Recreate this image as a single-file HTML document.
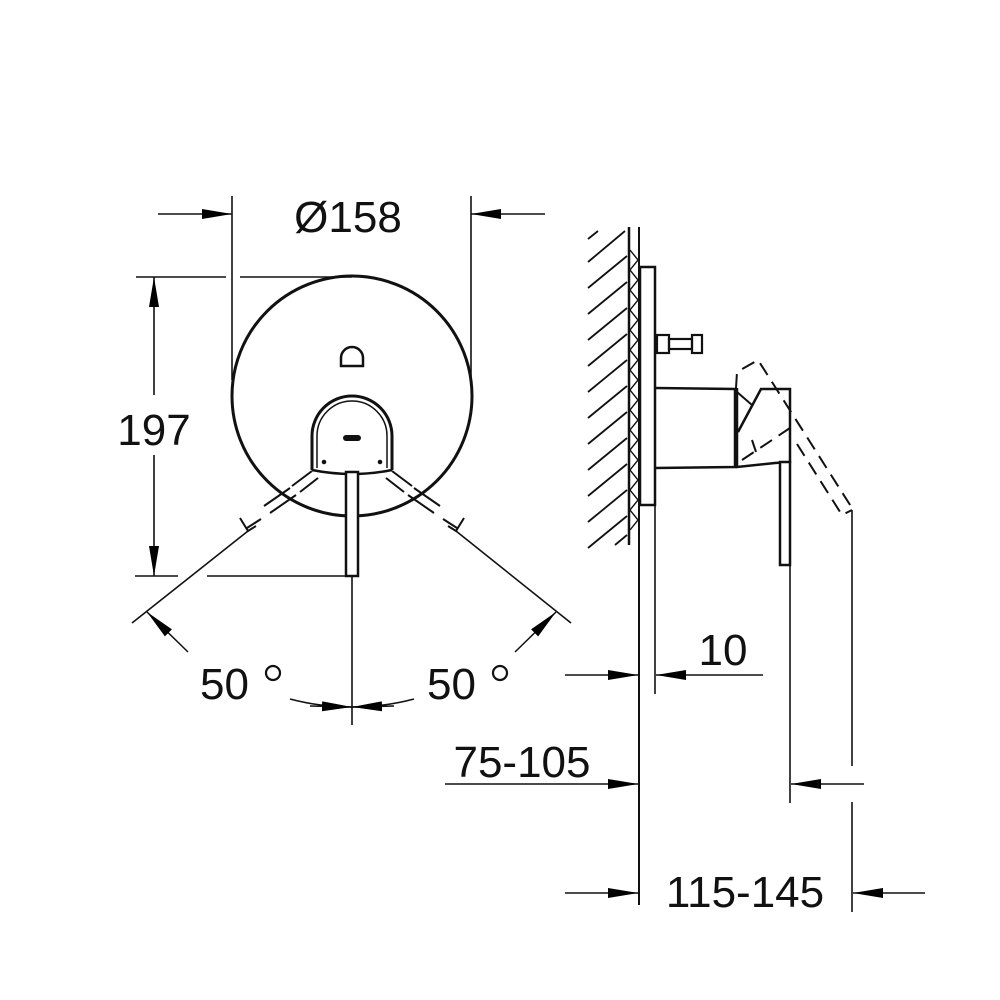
<!DOCTYPE html>
<html><head><meta charset="utf-8"><style>
html,body{margin:0;padding:0;background:#fff;}
svg{display:block}
text{font-family:"Liberation Sans",Arial,sans-serif;fill:#111;}
</style></head><body>
<svg width="1000" height="1000" viewBox="0 0 1000 1000" xmlns="http://www.w3.org/2000/svg">
<defs>
<marker id="a" viewBox="0 0 30 10" refX="30" refY="5" markerWidth="30" markerHeight="10" markerUnits="userSpaceOnUse" orient="auto">
<path d="M0,0 L30,5 L0,10 Z" fill="#000"/></marker>
</defs>
<g stroke="#111" fill="none" stroke-width="1.6">
<!-- front view -->
<circle cx="352" cy="396" r="120" stroke-width="3"/>
<path d="M341,366 v-8 a11,11 0 0 1 22,0 v8 z" stroke-width="2.5"/>
<path d="M312,470 v-34 a40,40 0 0 1 80,0 v34" stroke-width="3"/>
<path d="M317,468 v-32 a35,35 0 0 1 70,0 v32" stroke-width="1.5"/>
<path d="M312,470 Q352,478 392,470" stroke-width="2.5"/>
<rect x="343" y="435" width="18" height="6" rx="3" fill="#111" stroke="none"/>
<circle cx="324" cy="462" r="1.5" fill="#111"/><circle cx="380" cy="462" r="1.5" fill="#111"/>
<rect x="346" y="472" width="12" height="104" fill="#fff" stroke-width="2.5"/>
<!-- angle lines -->
<g stroke-width="2">
<line x1="318" y1="478" x2="300" y2="492"/><line x1="312" y1="471" x2="292" y2="486"/>
<line x1="296" y1="495" x2="270" y2="513"/><line x1="290" y1="488" x2="264" y2="506"/>
<line x1="261" y1="519" x2="247" y2="528"/>
<path d="M240,518 l8,13 l8,-5"/>
<line x1="386" y1="478" x2="404" y2="492"/><line x1="392" y1="471" x2="412" y2="486"/>
<line x1="408" y1="495" x2="434" y2="513"/><line x1="414" y1="488" x2="440" y2="506"/>
<line x1="443" y1="519" x2="457" y2="528"/>
<path d="M464,518 l-8,13 l-8,-5"/>
</g>
<line x1="248" y1="531" x2="132" y2="623"/>
<line x1="456" y1="531" x2="571" y2="623"/>
<line x1="188" y1="652" x2="147" y2="612" marker-end="url(#a)" stroke-width="1.5"/>
<line x1="515" y1="652" x2="556" y2="612" marker-end="url(#a)" stroke-width="1.5"/>
<line x1="352" y1="576" x2="352" y2="725"/>
<path d="M290,699 Q320,707 352,707" /><path d="M414,699 Q384,707 352,707"/>
<line x1="310" y1="706" x2="352" y2="707" marker-end="url(#a)"/>
<line x1="394" y1="706" x2="352" y2="707" marker-end="url(#a)"/>
<!-- Ø158 -->
<line x1="232" y1="196" x2="232" y2="380"/>
<line x1="471" y1="196" x2="471" y2="380"/>
<line x1="158" y1="214" x2="232" y2="214" marker-end="url(#a)"/>
<line x1="545" y1="214" x2="471" y2="214" marker-end="url(#a)"/>
<!-- 197 -->
<line x1="136" y1="277" x2="226" y2="277"/><line x1="240" y1="277" x2="352" y2="277"/>
<line x1="135" y1="576" x2="178" y2="576"/><line x1="207" y1="576" x2="350" y2="576"/>
<line x1="154" y1="395" x2="154" y2="277" marker-end="url(#a)"/>
<line x1="154" y1="455" x2="154" y2="576" marker-end="url(#a)"/>
<!-- side view wall -->
<line x1="629" y1="227" x2="629" y2="545" stroke-width="2.5"/>
<line x1="639" y1="227" x2="639" y2="905" stroke-width="2"/>
<g stroke-width="1.8">
<line x1="588" y1="239" x2="598" y2="231"/>
<line x1="588" y1="262" x2="625" y2="231"/>
<line x1="588" y1="288" x2="627" y2="256"/>
<line x1="588" y1="314" x2="627" y2="282"/>
<line x1="588" y1="340" x2="627" y2="308"/>
<line x1="588" y1="366" x2="627" y2="334"/>
<line x1="588" y1="392" x2="627" y2="360"/>
<line x1="588" y1="418" x2="627" y2="386"/>
<line x1="588" y1="444" x2="627" y2="412"/>
<line x1="588" y1="470" x2="627" y2="438"/>
<line x1="588" y1="496" x2="627" y2="464"/>
<line x1="588" y1="522" x2="627" y2="490"/>
<line x1="588" y1="548" x2="627" y2="516"/>
<line x1="615" y1="545" x2="627" y2="535"/>
</g>
<g stroke-width="1.4">
<path d="M630,250 l8,10 l-8,10 l8,10 l-8,10 l8,10 l-8,10 l8,10 l-8,10 l8,10 l-8,10 l8,10 l-8,10 l8,10 l-8,10 l8,10 l-8,10 l8,10 l-8,10 l8,10 l-8,10 l8,10 l-8,10 l8,10 l-8,10 l8,10 l-8,10 l8,10 l-8,10"/>
</g>
<rect x="640" y="267" width="15" height="238" fill="#fff" stroke-width="2.5"/>
<line x1="655" y1="505" x2="655" y2="694"/>
<rect x="657" y="335" width="12" height="18" stroke-width="2.2"/>
<rect x="669" y="339" width="23" height="10" stroke-width="2.2"/>
<rect x="692" y="335" width="10" height="18" stroke-width="2.2"/>
<path d="M655,388 L735,389 L735,467 L655,468" stroke-width="2.5"/>
<path d="M737,388 L737,467 L775,463 L790,462 L790,389 L761,389 L738,432" stroke-width="2.5"/>
<path d="M737,392 L752,405" stroke-width="2"/>
<rect x="780" y="462" width="10" height="103" fill="#fff" stroke-width="2.5"/>
<g stroke-dasharray="14,8" stroke-width="2">
<path d="M736,388 L737,372 L758,360 L852,508"/>
<path d="M797,444 L842,515 L852,510"/>
<path d="M742,460 L790,428"/>
<path d="M752,440 L756,452"/>
</g>
<line x1="790" y1="565" x2="790" y2="803"/>
<line x1="852" y1="510" x2="852" y2="766"/>
<line x1="852" y1="802" x2="852" y2="912"/>
<!-- dims right -->
<line x1="565" y1="675" x2="638" y2="675" marker-end="url(#a)"/>
<line x1="763" y1="675" x2="656" y2="675" marker-end="url(#a)"/>
<line x1="445" y1="784" x2="638" y2="784" marker-end="url(#a)"/>
<line x1="864" y1="784" x2="791" y2="784" marker-end="url(#a)"/>
<line x1="565" y1="893" x2="638" y2="893" marker-end="url(#a)"/>
<line x1="925" y1="893" x2="853" y2="893" marker-end="url(#a)"/>
</g>
<g font-size="44">
<text x="348" y="232" text-anchor="middle">Ø158</text>
<text x="154" y="445" text-anchor="middle">197</text>
<text x="200" y="699">50</text>
<text x="427" y="699">50</text>
<text x="723" y="665" text-anchor="middle">10</text>
<text x="522" y="777" text-anchor="middle">75-105</text>
<text x="745" y="907" text-anchor="middle">115-145</text>
</g>
<circle cx="273" cy="673" r="7" fill="none" stroke="#111" stroke-width="2.2"/>
<circle cx="500" cy="673" r="7" fill="none" stroke="#111" stroke-width="2.2"/>
</svg>
</body></html>
